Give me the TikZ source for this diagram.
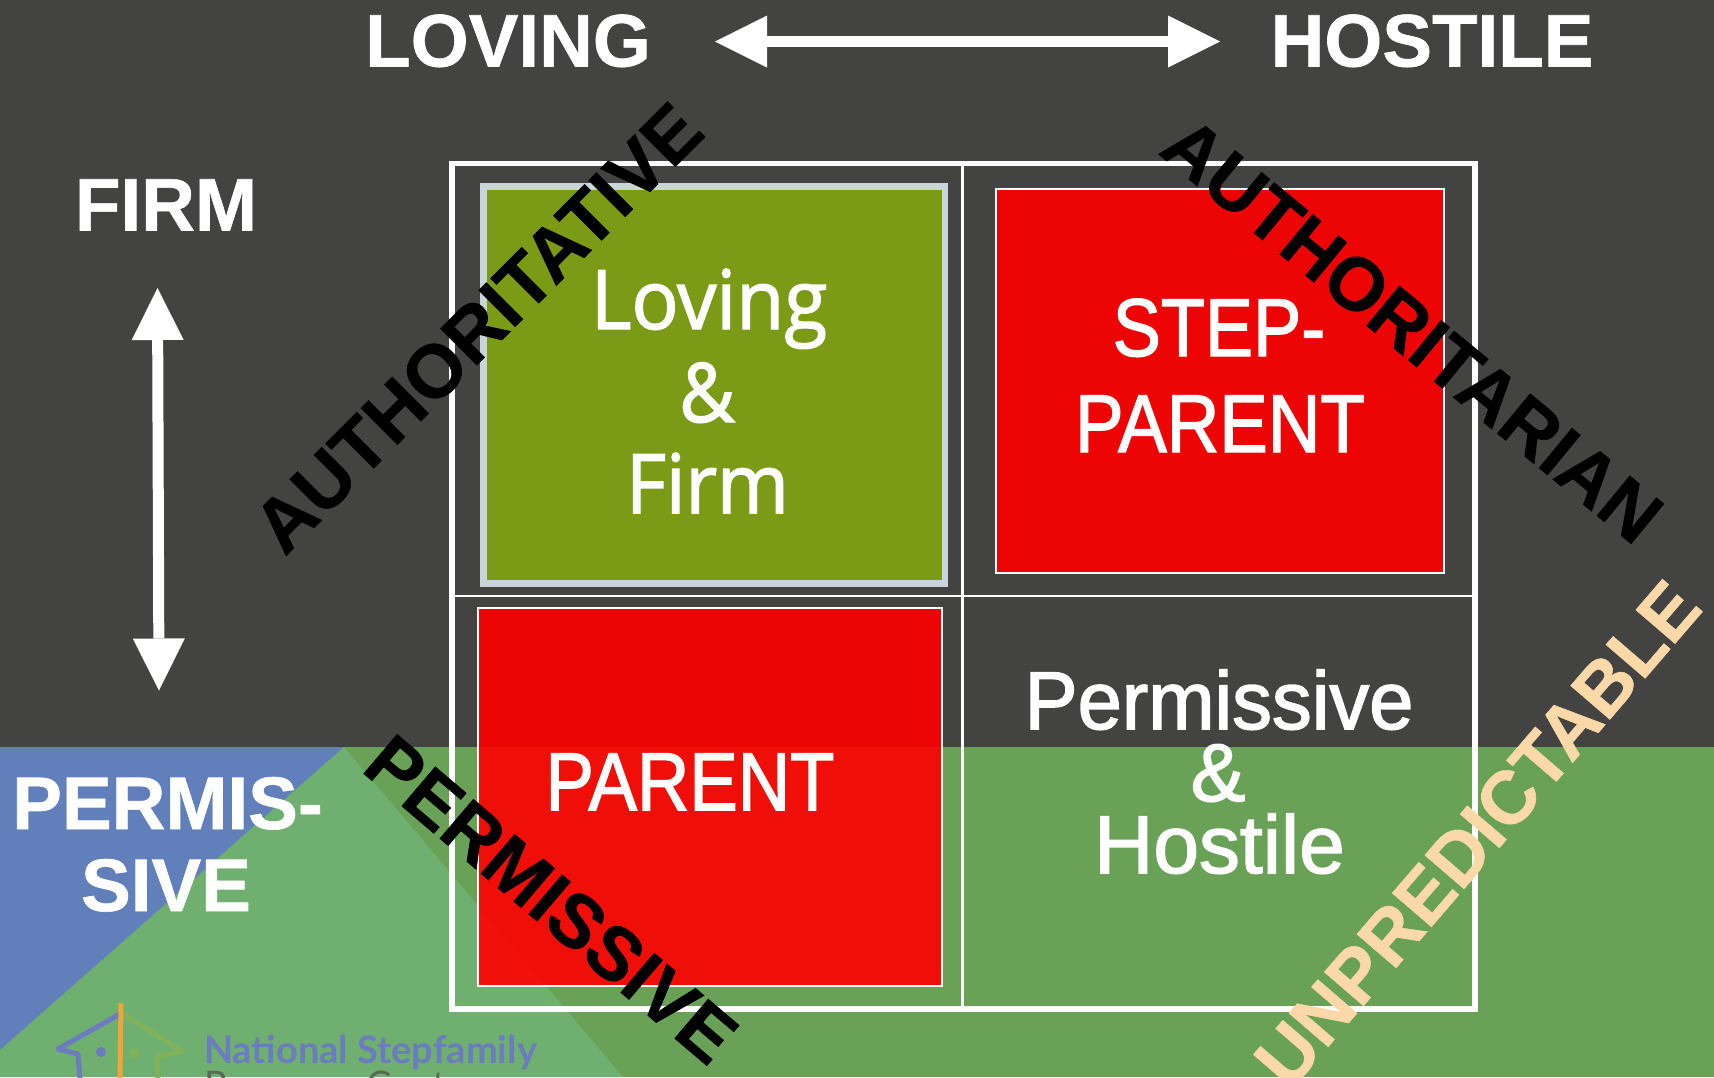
\documentclass[tikz,border=0pt]{standalone}
\usepackage{fontspec}
\usepackage{graphicx}
\setmainfont{Liberation Sans}
\newfontfamily\opensans[FakeBold=1.8]{Open Sans}
\newfontfamily\arialheavy[FakeBold=1.8]{Liberation Sans}
\newfontfamily\arialblack[BoldFont={Liberation Sans Bold},BoldFeatures={FakeBold=0.8}]{Liberation Sans}
\newfontfamily\latofont{Lato}
\usetikzlibrary{arrows.meta}
\definecolor{bgdark}{HTML}{434341}
\definecolor{bandgreen}{HTML}{69A257}
\definecolor{lightgreen}{HTML}{6FAF70}
\definecolor{blueband}{HTML}{6180BB}
\definecolor{boxgreen}{HTML}{7B9B17}
\definecolor{boxedge}{HTML}{C9D5DA}
\definecolor{redtop}{HTML}{ED0505}
\definecolor{redband}{HTML}{EF0F08}
\definecolor{redlight}{HTML}{F1110A}
\definecolor{peach}{HTML}{FBD8A8}
\definecolor{logoblue}{HTML}{6B7DBE}
\definecolor{logogreen}{HTML}{7FB25A}
\definecolor{logoorange}{HTML}{F0A53C}
\definecolor{logogrey}{HTML}{566A58}
\tikzset{
  every node/.style={inner sep=0pt,outer sep=0pt,anchor=base,align=center},
  headbold/.style={text=white,font=\arialblack\bfseries\fontsize{74.5}{74.5}\selectfont},
  cellword/.style={text=white,font=\arialheavy\fontsize{82}{82}\selectfont},
  cellsoft/.style={text=white,font=\opensans\fontsize{82}{82}\selectfont},
  diagword/.style={text=black,font=\arialblack\bfseries\fontsize{75}{75}\selectfont},
  doublearrow/.style={draw=white,line width=11pt,
    {Triangle[length=52pt,width=52pt,line width=0pt,fill=white]}-{Triangle[length=52pt,width=52pt,line width=0pt,fill=white]}},
  logostroke/.style={line width=5pt,line cap=round,line join=round},
}
\begin{document}
\begin{tikzpicture}[x=1pt,y=-1pt]
\useasboundingbox (0,0) rectangle (1714,1077);
\clip (0,0) rectangle (1714,1077);
% background
\fill[bgdark] (0,0) rectangle (1714,1077);
\fill[bandgreen] (0,747) rectangle (1714,1077);
\fill[blueband] (0,747) -- (344,747) -- (0,1050) -- cycle;
\fill[lightgreen] (344,747) -- (623,1077) -- (0,1077) -- (0,1050) -- cycle;
% logo
\draw[logostroke,logoblue] (120,1014) -- (58,1049) -- (78,1054) -- (80,1080);
\draw[logostroke,logogreen] (123,1014) -- (183,1052) -- (157,1056) -- (158,1080);
\draw[line width=5pt,logoorange] (121,1003) -- (120,1080);
\fill[logoblue] (101,1052) circle (5pt);
\fill[logogreen] (135,1053) circle (5pt);
\node[anchor=base west,text=logoblue,font=\latofont\bfseries\fontsize{38}{38}\selectfont] (logotitle) at (204,1063) {National Stepfamily};
\node[anchor=base west,text=logogrey,font=\latofont\fontsize{38}{38}\selectfont] (logosub) at (204,1098) {Resource Center};
% red and green cells
\fill[boxgreen] (483.5,186.5) rectangle (945,583.5);
\draw[boxedge,line width=6.5pt] (483.5,186.5) rectangle (945,583.5);
\fill[redtop] (996,189) rectangle (1444,573);
\draw[white,line width=2pt] (996,189) rectangle (1444,573);
\fill[redtop] (478,608) rectangle (942,986);
\begin{scope}
\clip (478,747) rectangle (942,986);
\fill[redband] (478,747) rectangle (942,986);
\fill[redlight] (344,747) -- (623,1077) -- (0,1077) -- cycle;
\end{scope}
\draw[white,line width=2pt] (478,608) rectangle (942,986);
% grid
\draw[white,line width=5.5pt] (451.8,163.5) rectangle (1474.8,1009);
\draw[white,line width=2.2pt] (962.5,163.5) -- (962.5,1009);
\draw[white,line width=2.2pt] (449,596) -- (1474.8,596);
% arrows
\coordinate (hleft) at (715,41.5);
\coordinate (hright) at (1220,41.5);
\coordinate (vtop) at (157.5,288);
\coordinate (vbot) at (159,690.5);
\draw[doublearrow] (hleft) -- (hright);
\draw[doublearrow] (vtop) -- (vbot);
% heading labels
\node[headbold] (loving) at (508,66.5) {LOVING};
\node[headbold] (hostile) at (1432,66.5) {HOSTILE};
\node[headbold] (firm) at (166,230.5) {FIRM};
\node[headbold] (permis) at (167.5,829) {PERMIS-};
\node[headbold] (sive) at (166,911) {SIVE};
% cell labels
\node[cellsoft] (cl1) at (709,329) {\scalebox{.955}[1]{Loving}};
\node[cellsoft] (cl2) at (707,422) {\scalebox{.93}[1]{\&}};
\node[cellsoft] (cl3) at (707.5,513) {\scalebox{.943}[1]{Firm}};
\node[cellword] (st1) at (1219,356) {\scalebox{.88}[1]{STEP-}};
\node[cellword] (st2) at (1220,452) {\scalebox{.888}[1]{PARENT}};
\node[cellword] (par) at (690,810) {\scalebox{.885}[1]{PARENT}};
\node[cellword] (ph1) at (1219,729) {\scalebox{.97}[1]{Permissive}};
\node[cellword] (ph2) at (1218,801) {\&};
\node[cellword] (ph3) at (1219.5,873) {Hostile};
% diagonal labels
\node[diagword,rotate=45] (dauthv) at (496,346) {AUTHORITATIVE};
\node[diagword,rotate=-39.5] (dautha) at (1396,350) {AUTHORITARIAN};
\node[diagword,rotate=-40.4] (dperm) at (534.5,919) {PERMISSIVE};
\node[diagword,text=peach,rotate=49.3] (dunp) at (1497,850.5) {UNPREDICTABLE};
\end{tikzpicture}
\end{document}
